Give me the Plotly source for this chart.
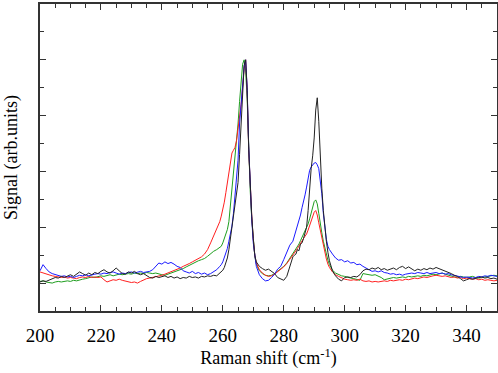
import numpy as np
import plotly.graph_objects as go

# Raman shift sampling grid (cm^-1)
shift = np.concatenate([
    np.arange(200, 260, 1.0),      # 200..259
    np.arange(259.5, 271.01, 0.5), # 259.5..271
    np.arange(272, 284, 1.0),      # 272..283
    np.arange(283.5, 295.01, 0.5), # 283.5..295
    np.arange(296, 351, 1.0),      # 296..350
])

black = [
    0.02, 0.04, 0.03, 0.05, 0.08, 0.10, 0.09, 0.12, 0.10, 0.13,
    0.15, 0.12, 0.16, 0.20, 0.17, 0.14, 0.18, 0.15, 0.19, 0.17,
    0.21, 0.24, 0.20, 0.18, 0.22, 0.27, 0.22, 0.17, 0.16, 0.20,
    0.18, 0.21, 0.17, 0.15, 0.17, 0.13, 0.10, 0.09, 0.12, 0.10,
    0.11, 0.13, 0.10, 0.12, 0.09, 0.11, 0.08, 0.10, 0.09, 0.12,
    0.10, 0.11, 0.09, 0.12, 0.11, 0.13, 0.12, 0.14, 0.13, 0.18,
    0.20, 0.23, 0.28, 0.35, 0.45, 0.60, 0.80, 1.00, 1.20, 1.40,
    1.60, 1.80, 2.30, 2.85, 3.45, 3.90, 4.00, 3.45, 2.40, 1.70,
    1.20, 0.80, 0.50, 0.38,
    0.30, 0.26, 0.23, 0.25, 0.21, 0.17, 0.10, 0.07, 0.05, 0.12, 0.30, 0.47,
    0.50, 0.52, 0.60, 0.58, 0.70, 0.72, 0.80, 0.88, 1.00, 1.30,
    1.75, 2.05, 2.28, 2.60, 3.10, 3.32, 2.90, 2.25, 1.70, 1.30,
    1.00, 0.75, 0.55, 0.40,
    0.22, 0.13, 0.07, 0.04, 0.10, 0.11, 0.10, 0.12, 0.11, 0.15,
    0.22, 0.25, 0.24, 0.27, 0.25, 0.28, 0.24, 0.26, 0.23, 0.25,
    0.27, 0.24, 0.28, 0.30, 0.26, 0.29, 0.25, 0.22, 0.25, 0.23,
    0.26, 0.24, 0.27, 0.25, 0.28, 0.26, 0.24, 0.22, 0.20, 0.17,
    0.14, 0.12, 0.08, 0.04, 0.06, 0.08, 0.07, 0.09, 0.10, 0.11,
    0.09, 0.10, 0.08, 0.09, 0.07,
]

blue = [
    0.22, 0.33, 0.26, 0.20, 0.17, 0.15, 0.14, 0.12, 0.13, 0.11,
    0.12, 0.10, 0.12, 0.14, 0.13, 0.15, 0.13, 0.15, 0.16, 0.17,
    0.16, 0.18, 0.17, 0.19, 0.20, 0.18, 0.16, 0.18, 0.17, 0.19,
    0.20, 0.18, 0.20, 0.21, 0.19, 0.20, 0.21, 0.24, 0.30, 0.36,
    0.34, 0.38, 0.35, 0.37, 0.34, 0.30, 0.28, 0.22, 0.20, 0.18,
    0.21, 0.17, 0.19, 0.16, 0.18, 0.15, 0.17, 0.20, 0.24, 0.30,
    0.33, 0.38, 0.45, 0.52, 0.62, 0.75, 0.88, 1.02, 1.25, 1.55,
    1.88, 2.20, 2.85, 3.25, 3.60, 3.88, 4.00, 3.50, 2.45, 1.70,
    1.15, 0.72, 0.45, 0.30,
    0.15, 0.08, 0.04, 0.05, 0.10, 0.16, 0.25, 0.30, 0.42, 0.55, 0.68, 0.75,
    0.85, 0.93, 1.00, 1.10, 1.22, 1.35, 1.45, 1.58, 1.72, 1.88,
    2.02, 2.08, 2.12, 2.15, 2.16, 2.12, 2.05, 1.85, 1.60, 1.25,
    0.98, 0.78, 0.66, 0.60,
    0.52, 0.45, 0.41, 0.42, 0.38, 0.40, 0.36, 0.37, 0.33, 0.34,
    0.30, 0.27, 0.24, 0.21, 0.22, 0.20, 0.22, 0.19, 0.18, 0.16,
    0.17, 0.15, 0.16, 0.14, 0.16, 0.17, 0.18, 0.17, 0.19, 0.18,
    0.17, 0.19, 0.17, 0.18, 0.19, 0.17, 0.18, 0.16, 0.17, 0.15,
    0.14, 0.12, 0.11, 0.10, 0.11, 0.10, 0.09, 0.10, 0.12, 0.11,
    0.13, 0.12, 0.14, 0.13, 0.12,
]

green = [
    0.03, 0.04, 0.02, 0.01, 0.00, 0.02, 0.03, 0.02, 0.03, 0.04,
    0.03, 0.05, 0.04, 0.06, 0.07, 0.08, 0.09, 0.11, 0.10, 0.12,
    0.13, 0.12, 0.14, 0.15, 0.13, 0.15, 0.16, 0.15, 0.16, 0.17,
    0.16, 0.18, 0.17, 0.18, 0.17, 0.19, 0.18, 0.17, 0.18, 0.16,
    0.15, 0.14, 0.16, 0.18, 0.20, 0.21, 0.23, 0.26, 0.29, 0.32,
    0.35, 0.38, 0.40, 0.42, 0.44, 0.48, 0.53, 0.57, 0.60, 0.63,
    0.66, 0.72, 0.80, 0.88, 0.96, 1.10, 1.38, 1.72, 2.05, 2.30,
    2.50, 2.85, 3.25, 3.65, 3.92, 4.00, 3.80, 3.30, 2.35, 1.65,
    1.15, 0.75, 0.48, 0.34,
    0.22, 0.17, 0.14, 0.13, 0.14, 0.17, 0.21, 0.25, 0.30, 0.36, 0.44, 0.52,
    0.56, 0.60, 0.65, 0.70, 0.76, 0.82, 0.88, 0.93, 0.98, 1.06,
    1.15, 1.26, 1.38, 1.46, 1.49, 1.42, 1.25, 1.05, 0.90, 0.75,
    0.63, 0.50, 0.41, 0.33,
    0.23, 0.18, 0.15, 0.13, 0.12, 0.10, 0.09, 0.08, 0.07, 0.05,
    0.17, 0.16, 0.15, 0.14, 0.15, 0.13, 0.10, 0.06, 0.07, 0.08,
    0.10, 0.09, 0.10, 0.11, 0.10, 0.12, 0.11, 0.12, 0.13, 0.12,
    0.14, 0.13, 0.14, 0.16, 0.15, 0.17, 0.18, 0.16, 0.14, 0.12,
    0.11, 0.10, 0.12, 0.11, 0.10, 0.11, 0.12, 0.10, 0.09, 0.10,
    0.11, 0.12, 0.13, 0.14, 0.13,
]

red = [
    0.20, 0.18, 0.16, 0.14, 0.13, 0.12, 0.11, 0.10, 0.11, 0.09,
    0.10, 0.09, 0.08, 0.10, 0.11, 0.10, 0.12, 0.10, 0.11, 0.10,
    0.11, 0.06, 0.02, 0.04, 0.06, 0.05, 0.07, 0.05, 0.04, 0.03,
    0.01, 0.02, 0.00, 0.03, 0.06, 0.08, 0.09, 0.10, 0.11, 0.13,
    0.14, 0.16, 0.18, 0.20, 0.22, 0.24, 0.27, 0.30, 0.32, 0.35,
    0.38, 0.41, 0.44, 0.47, 0.52, 0.60, 0.72, 0.85, 0.98, 1.10,
    1.20, 1.30, 1.45, 1.62, 1.80, 2.00, 2.20, 2.33, 2.38, 2.43,
    2.55, 2.75, 2.95, 3.20, 3.50, 3.85, 4.00, 3.45, 2.40, 1.70,
    1.20, 0.78, 0.50, 0.36,
    0.24, 0.18, 0.14, 0.12, 0.13, 0.16, 0.20, 0.24, 0.29, 0.35, 0.42, 0.50,
    0.54, 0.58, 0.62, 0.67, 0.72, 0.76, 0.80, 0.84, 0.88, 0.95,
    1.03, 1.12, 1.20, 1.27, 1.30, 1.22, 1.08, 0.95, 0.80, 0.65,
    0.53, 0.43, 0.34, 0.28,
    0.20, 0.15, 0.12, 0.09, 0.07, 0.06, 0.05, 0.06, 0.05, 0.07,
    0.04, 0.03, 0.04, 0.02, 0.03, 0.02, 0.03, 0.04, 0.03, 0.05,
    0.04, 0.05, 0.06, 0.05, 0.07, 0.06, 0.08, 0.09, 0.08, 0.10,
    0.11, 0.10, 0.12, 0.13, 0.14, 0.13, 0.12, 0.13, 0.11, 0.10,
    0.11, 0.09, 0.10, 0.08, 0.09, 0.08, 0.07, 0.08, 0.06, 0.07,
    0.05, 0.06, 0.05, 0.04, 0.05,
]

x_ticks = [200, 220, 240, 260, 280, 300, 320, 340]

series = [
    ("green", green, "#1e9e1e"),
    ("red", red, "#ff2020"),
    ("blue", blue, "#1a1aff"),
    ("black", black, "#222222"),
]

fig = go.Figure()
for name, vals, col in series:
    fig.add_trace(go.Scatter(x=shift[:len(vals)], y=vals, mode="lines", name=name,
                             line=dict(color=col, width=1), showlegend=False))

font = "Liberation Serif, Times New Roman, serif"
axis_common = dict(showline=True, linecolor="#333", linewidth=1.5, mirror="allticks",
                   ticks="inside", tickcolor="#333", tickwidth=1.2, showgrid=False,
                   zeroline=False, automargin=False)
fig.update_layout(
    width=498, height=373,
    margin=dict(l=40, r=1, t=4, b=62),
    paper_bgcolor="white", plot_bgcolor="white",
    font=dict(family=font, size=19, color="black"),
    xaxis=dict(range=[200, 350], tickmode="array", tickvals=x_ticks, ticklen=6,
               minor=dict(dtick=5, tick0=200, ticks="inside", ticklen=4, tickcolor="#333"),
               title=dict(text="Raman shift (cm<sup>-1</sup>)", font=dict(size=18), standoff=6),
               tickfont=dict(size=19), ticklabelstandoff=6, **axis_common),
    yaxis=dict(range=[-0.5, 5.0], dtick=1, tick0=0, ticklen=6, showticklabels=False,
               minor=dict(dtick=0.5, tick0=0, ticks="inside", ticklen=4, tickcolor="#333"),
               title=dict(text="Signal (arb.units)", font=dict(size=18), standoff=16),
               **axis_common),
)
fig.write_html("out.html", config={"displayModeBar": False},
               post_script="document.body.style.margin='0';")
